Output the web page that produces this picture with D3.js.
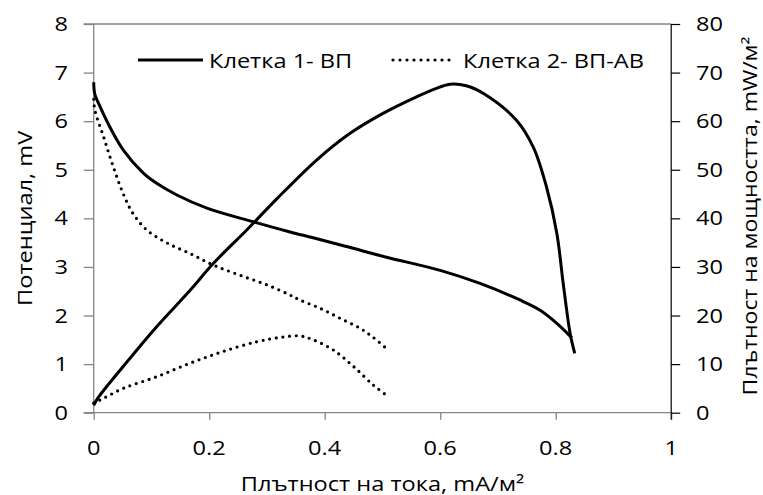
<!DOCTYPE html>
<html><head><meta charset="utf-8">
<script src="https://cdn.jsdelivr.net/npm/d3@7"></script>
<style>body{margin:0;background:#fff}svg{display:block}text{font-family:"Open Sans",sans-serif;fill:#000}</style>
</head><body>
<script>
// Data (x = current density, mA/м²)
const current1 = [0, 0.002, 0.011, 0.028, 0.051, 0.086, 0.109, 0.144, 0.196, 0.276, 0.340, 0.380, 0.438, 0.507, 0.600, 0.669, 0.738, 0.773, 0.802, 0.828];
const potential1 = [6.8, 6.55, 6.30, 5.88, 5.41, 4.93, 4.72, 4.48, 4.21, 3.93, 3.72, 3.60, 3.42, 3.20, 2.93, 2.66, 2.32, 2.11, 1.84, 1.54];
const powerX1 = [0, 0.006, 0.051, 0.109, 0.167, 0.207, 0.265, 0.317, 0.386, 0.444, 0.501, 0.559, 0.590, 0.617, 0.645, 0.675, 0.732, 0.761, 0.784, 0.802, 0.813, 0.825, 0.833];
const power1 = [1.5, 2.8, 9.5, 17.7, 25.2, 30.7, 37.6, 44.0, 52.0, 57.5, 61.6, 65.0, 66.6, 67.6, 67.3, 65.7, 60.2, 54.7, 46.5, 36.9, 26.6, 16.3, 12.2];
const current2 = [0, 0.002, 0.017, 0.034, 0.051, 0.068, 0.092, 0.126, 0.166, 0.207, 0.253, 0.300, 0.337, 0.357, 0.392, 0.427, 0.461, 0.484, 0.507];
const potential2 = [6.45, 6.23, 5.68, 5.06, 4.51, 4.10, 3.76, 3.50, 3.28, 3.04, 2.83, 2.63, 2.44, 2.32, 2.15, 1.94, 1.74, 1.55, 1.32];
const powerX2 = [0, 0.011, 0.051, 0.109, 0.167, 0.224, 0.282, 0.323, 0.357, 0.380, 0.415, 0.450, 0.484, 0.507];
const power2 = [2.0, 2.6, 5.0, 7.4, 10.2, 12.6, 14.6, 15.5, 15.8, 15.0, 12.9, 9.5, 5.7, 3.6];
const xTicks = [0, 0.2, 0.4, 0.6, 0.8, 1];
const yLeftTicks = [0, 1, 2, 3, 4, 5, 6, 7, 8];
const yRightTicks = [0, 10, 20, 30, 40, 50, 60, 70, 80];
const legendLabels = ["Клетка 1- ВП", "Клетка 2- ВП-АВ"];
const xTitle = "Плътност на тока, mA/м²";
const yLeftTitle = "Потенциал, mV";
const yRightTitle = "Плътност на мощността, mW/м²";

const W = 763, H = 495;
const L = 93.7, R = 671.2, T = 24, B = 412.7;
const FS = 20, SX = 1.18;
const gray = "#868686";

const svg = d3.select("body").append("svg").attr("width", W).attr("height", H);
const x = d3.scaleLinear().domain([0, 1]).range([L, R]);
const yL = d3.scaleLinear().domain([0, 8]).range([B, T]);
const yR = d3.scaleLinear().domain([0, 80]).range([B, T]);

function txt(s, tx, ty, anchor, rot, fs) {
  const t = svg.append("text")
    .attr("transform", `translate(${tx},${ty})` + (rot ? ` rotate(${rot})` : "") + ` scale(${SX},1)`)
    .attr("text-anchor", anchor).style("font-size", (fs || FS) + "px");
  t.text(s);
  return t;
}

// top border
svg.append("line").attr("x1", L - 10).attr("x2", R).attr("y1", T).attr("y2", T).attr("stroke", gray).attr("stroke-width", 1.3);

// left axis
const gL = svg.append("g").attr("transform", `translate(${L},0)`)
  .call(d3.axisLeft(yL).tickValues(yLeftTicks).tickSize(10).tickFormat(""));
gL.selectAll("path,line").attr("stroke", gray).attr("stroke-width", 1.3);
gL.select("path").attr("d", `M0,${T}V${B}`);

// bottom axis
const gB = svg.append("g").attr("transform", `translate(0,${B})`)
  .call(d3.axisBottom(x).tickValues(xTicks).tickSize(7).tickFormat(""));
gB.selectAll("path,line").attr("stroke", gray).attr("stroke-width", 1.3);
gB.select("path").attr("d", `M${L - 10},0H${R}`);

// right axis
const gR = svg.append("g").attr("transform", `translate(${R},0)`)
  .call(d3.axisRight(yR).tickValues(yRightTicks).tickSize(9).tickFormat(""));
gR.selectAll("path,line").attr("stroke", "#000").attr("stroke-width", 1.2);
gR.select("path").attr("d", `M0,${T}V${B + 7}`);

// tick labels
yLeftTicks.forEach(v => txt(String(v), 68, yL(v) + 7, "end"));
yRightTicks.forEach(v => txt(String(v), 696, yR(v) + 7, "start"));
xTicks.forEach(v => txt(String(v), x(v), 455, "middle"));

// titles
txt(xTitle, (L + R) / 2, 491, "middle");
txt(yLeftTitle, 32, (T + B) / 2, "middle", -90);
txt(yRightTitle, 757, 216, "middle", -90, 19.5);

// lines
const curve = d3.curveCatmullRom.alpha(0.5);
function draw(xs, ys, yScale, dotted) {
  const data = xs.map((d, i) => [d, ys[i]]);
  const p = svg.append("path").datum(data)
    .attr("fill", "none").attr("stroke", "#000")
    .attr("d", d3.line().x(d => x(d[0])).y(d => yScale(d[1])).curve(curve));
  if (dotted) p.attr("stroke-width", 3.2).attr("stroke-dasharray", "0 6.7").attr("stroke-linecap", "round");
  else p.attr("stroke-width", 3);
}
draw(current1, potential1, yL, false);
draw(powerX1, power1, yR, false);
draw(current2, potential2, yL, true);
draw(powerX2, power2, yR, true);

// legend
svg.append("line").attr("x1", 138).attr("x2", 203).attr("y1", 60).attr("y2", 60).attr("stroke", "#000").attr("stroke-width", 3);
txt(legendLabels[0], 209, 68, "start");
svg.append("line").attr("x1", 393).attr("x2", 450).attr("y1", 60).attr("y2", 60).attr("stroke", "#000")
  .attr("stroke-width", 3.2).attr("stroke-dasharray", "0 7").attr("stroke-linecap", "round");
txt(legendLabels[1], 463, 68, "start");
</script>
</body></html>
